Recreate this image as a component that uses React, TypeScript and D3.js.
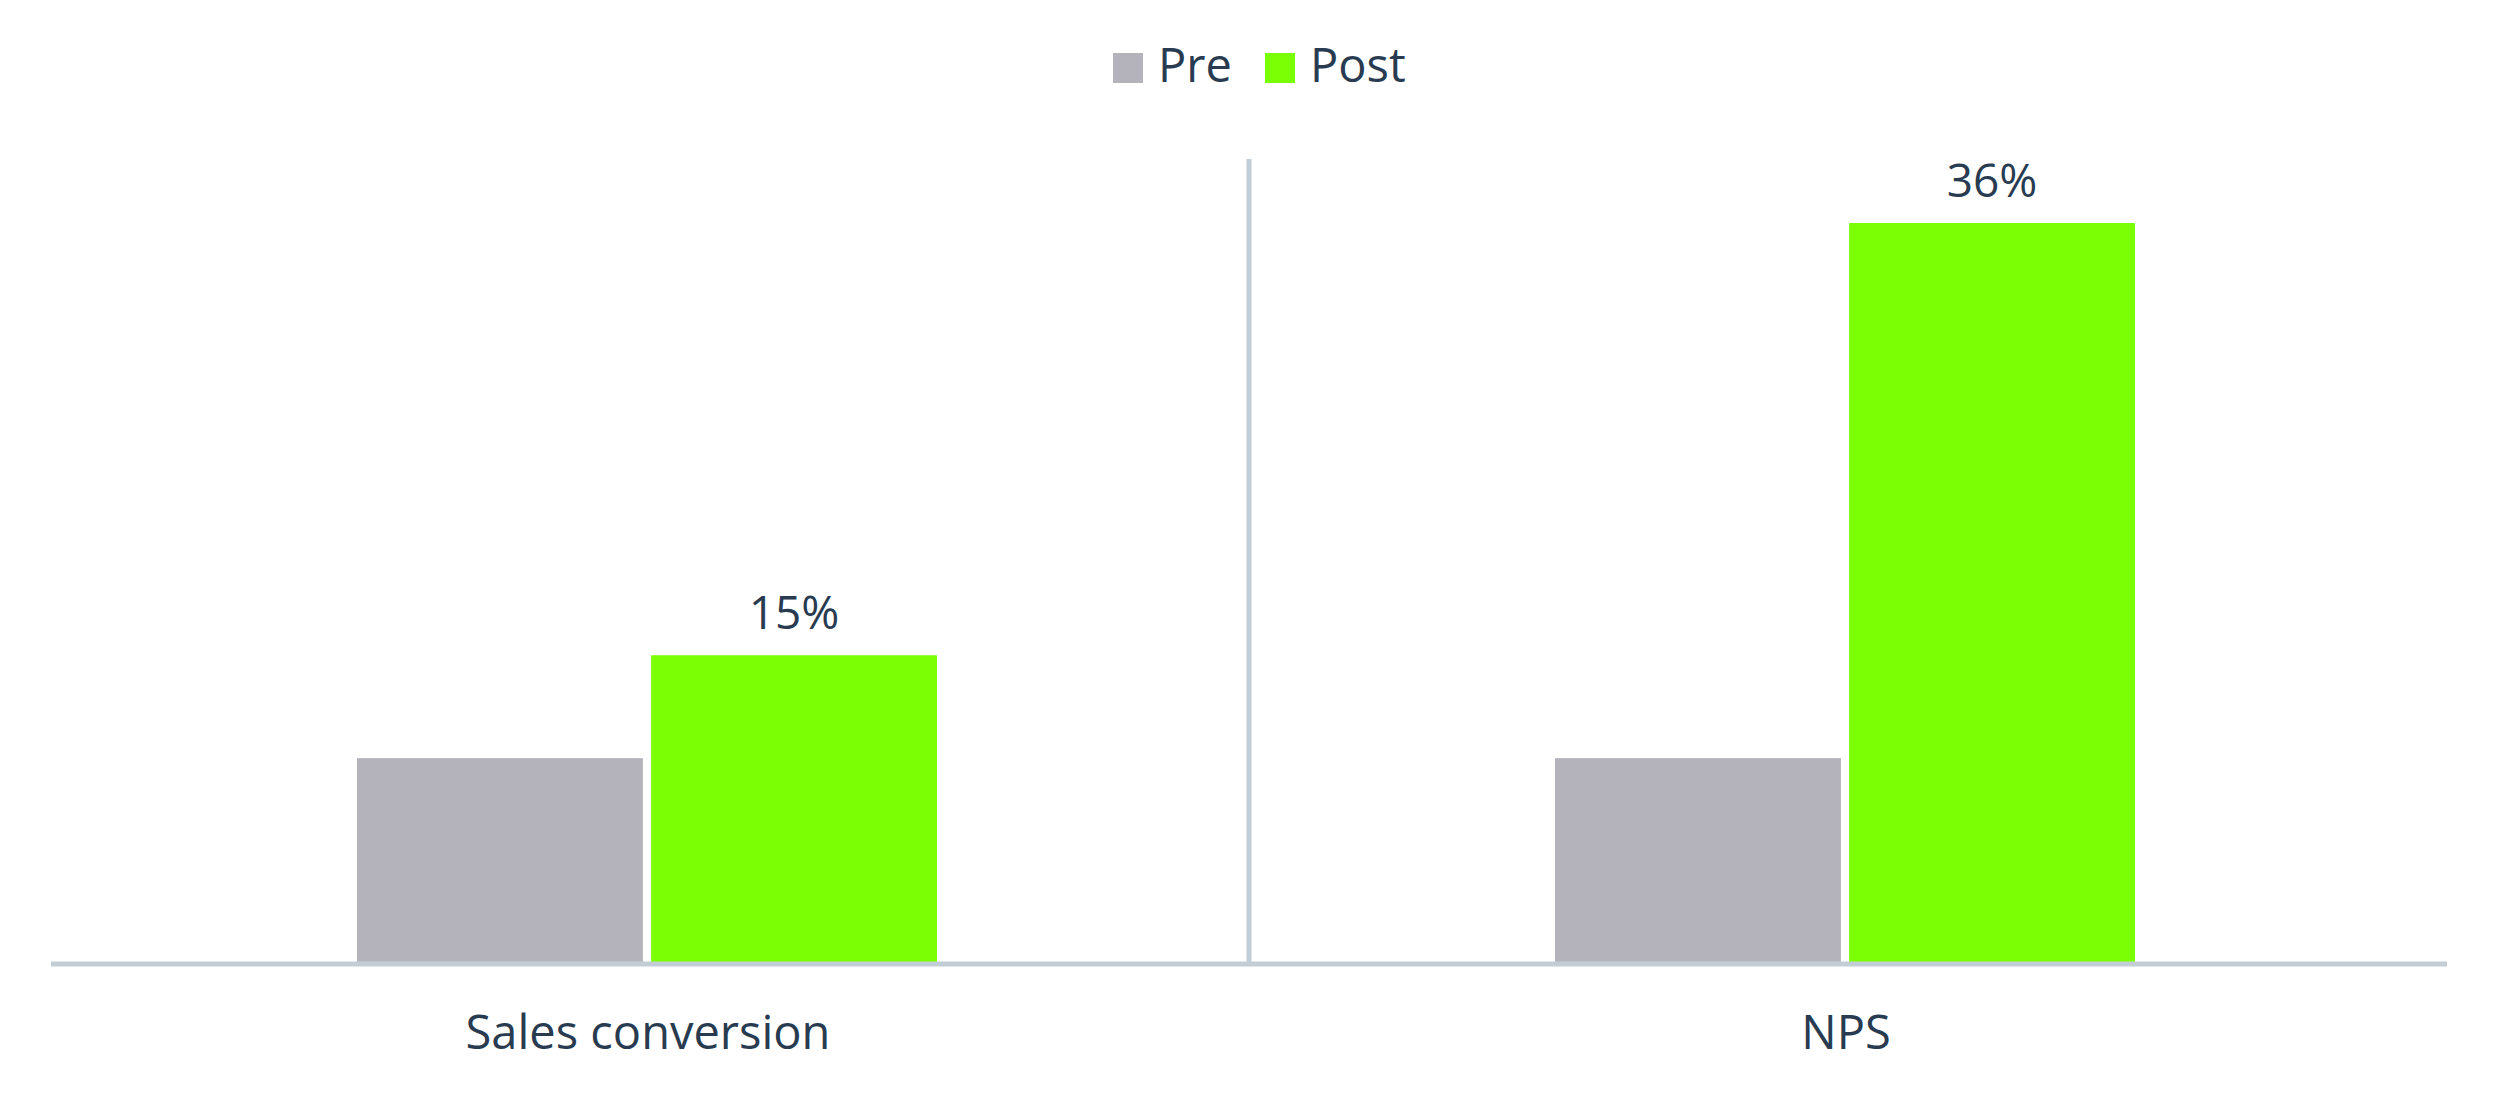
import React, { useRef, useEffect } from "react";
import * as d3 from "d3";

// Chart data
const categories = ["Sales conversion", "NPS"];
const seriesNames = ["Pre", "Post"];
const preValues = [10, 10];
const postValues = [15, 36];
const postLabels = ["15%", "36%"];

const colors: Record<string, string> = { Pre: "#b4b2ba", Post: "#7bff04" };

export default function App() {
  const svgRef = useRef<SVGSVGElement>(null);

  useEffect(() => {
    const width = 2500;
    const height = 1104;
    const baseline = 964;
    const left = 51;
    const right = 2447;
    const textColor = "#283b50";
    const axisColor = "#c3cdd6";
    const font = "'Open Sans', sans-serif";

    const svg = d3
      .select(svgRef.current)
      .attr("width", width)
      .attr("height", height);

    svg.selectAll("*").remove();

    // x: one band per category, then Pre/Post inside a fixed-width group
    const x0 = d3.scaleBand<string>().domain(categories).range([left, right]);
    const groupWidth = 580;
    const x1 = d3
      .scaleBand<string>()
      .domain(seriesNames)
      .range([0, groupWidth])
      .paddingInner(0.028);

    const y = d3.scaleLinear().domain([0, 36]).range([baseline, 223]);

    const rows = categories.map((c, i) => ({
      category: c,
      values: [
        { key: "Pre", value: preValues[i] },
        { key: "Post", value: postValues[i] },
      ],
      label: postLabels[i],
    }));

    // groups sit a touch left of the band centre
    const groupX = (c: string) =>
      x0(c)! + x0.bandwidth() / 2 - groupWidth / 2 - 3;

    // bars
    const group = svg
      .selectAll(".group")
      .data(rows)
      .join("g")
      .attr("class", "group")
      .attr("transform", (d) => `translate(${groupX(d.category)},0)`);

    group
      .selectAll("rect")
      .data((d) => d.values)
      .join("rect")
      .attr("x", (d) => x1(d.key)!)
      .attr("width", x1.bandwidth())
      .attr("y", (d) => y(d.value))
      .attr("height", (d) => baseline - y(d.value))
      .style("fill", (d) => colors[d.key]);

    // value labels on the Post bars
    group
      .append("text")
      .attr("x", x1("Post")! + x1.bandwidth() / 2)
      .attr("y", (d) => y(d.values[1].value) - 26)
      .attr("text-anchor", "middle")
      .style("font-family", font)
      .style("font-size", "46px")
      .style("fill", textColor)
      .text((d) => d.label);

    // divider between categories
    svg
      .append("line")
      .attr("x1", x0(categories[1])!)
      .attr("x2", x0(categories[1])!)
      .attr("y1", 159)
      .attr("y2", baseline)
      .style("stroke", axisColor)
      .style("stroke-width", 5);

    // baseline axis
    svg
      .append("line")
      .attr("x1", left)
      .attr("x2", right)
      .attr("y1", baseline)
      .attr("y2", baseline)
      .style("stroke", axisColor)
      .style("stroke-width", 5);

    // category labels
    svg
      .selectAll(".cat")
      .data(categories)
      .join("text")
      .attr("class", "cat")
      .attr("x", (d) => x0(d)! + x0.bandwidth() / 2 - 2)
      .attr("y", 1049)
      .attr("text-anchor", "middle")
      .style("font-family", font)
      .style("font-size", "47px")
      .style("fill", textColor)
      .text((d) => d);

    // legend
    const legendItems = [
      { key: "Pre", x: 1113 },
      { key: "Post", x: 1265 },
    ];
    const legend = svg
      .selectAll(".legend")
      .data(legendItems)
      .join("g")
      .attr("class", "legend")
      .attr("transform", (d) => `translate(${d.x},53)`);

    legend
      .append("rect")
      .attr("width", 30)
      .attr("height", 30)
      .style("fill", (d) => colors[d.key]);

    legend
      .append("text")
      .attr("x", 45)
      .attr("y", 29)
      .style("font-family", font)
      .style("font-size", "47px")
      .style("fill", textColor)
      .text((d) => d.key);
  }, []);

  return (
    <svg
      ref={svgRef}
      style={{ position: "absolute", left: 0, top: 0, background: "#fff" }}
    ></svg>
  );
}
